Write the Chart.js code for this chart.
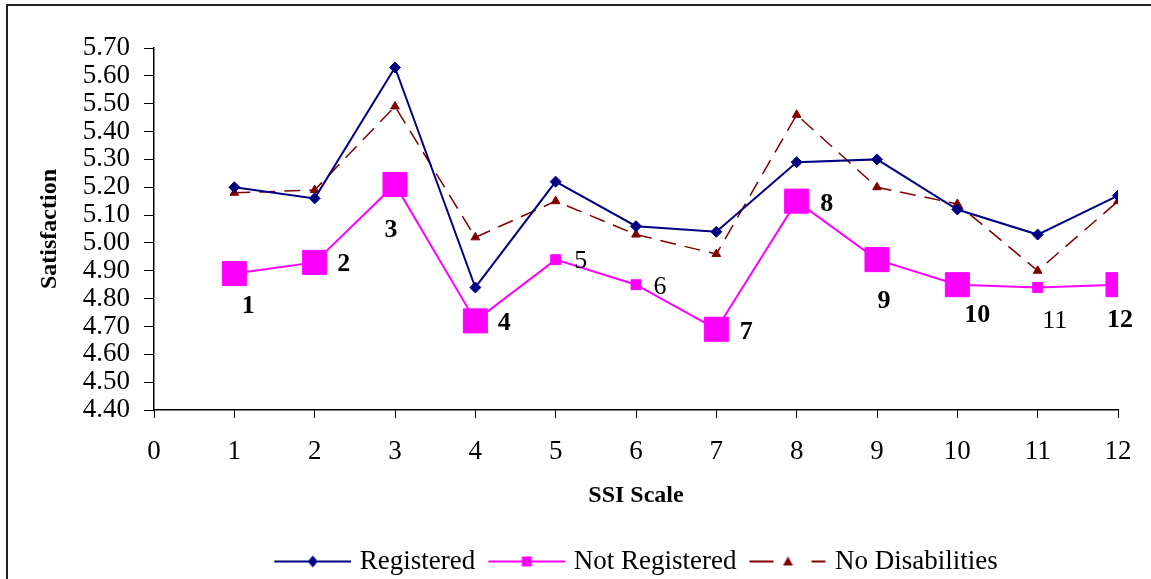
<!DOCTYPE html>
<html>
<head>
<meta charset="utf-8">
<title>SSI Scale Satisfaction</title>
<script src="https://cdn.jsdelivr.net/npm/chart.js@4"></script>
<style>
  html, body { margin: 0; padding: 0; background: #fff; overflow: hidden; }
  #chart { display: block; }
</style>
</head>
<body>
<canvas id="chart" width="1151" height="579"></canvas>
<script>
// SSI scale items (x values)
const ssiScale = [1, 2, 3, 4, 5, 6, 7, 8, 9, 10, 11, 12];

const registered = [5.20, 5.16, 5.63, 4.84, 5.22, 5.06, 5.04, 5.29, 5.30, 5.12, 5.03, 5.17];
const notRegistered = [4.89, 4.93, 5.21, 4.72, 4.94, 4.85, 4.69, 5.15, 4.94, 4.85, 4.84, 4.85];
const noDisabilities = [5.18, 5.19, 5.49, 5.02, 5.15, 5.03, 4.96, 5.46, 5.20, 5.14, 4.90, 5.15];

const seriesNames = ["Registered", "Not Registered", "No Disabilities"];

// labels written next to the "Not Registered" markers
const pointLabels = ["1", "2", "3", "4", "5", "6", "7", "8", "9", "10", "11", "12"];
const plainLabels = ["5", "6", "11"]; // these are small markers with non-bold labels

const serif = "'Liberation Serif', 'Times New Roman', serif";
const navy = "#000080";
const magenta = "#ff00ff";
const maroon = "#800000";

// where each label sits relative to its marker (dx, dy)
const labelOffsets = [
  [14, 33], [29, 2], [-4, 46], [29, 2], [25, 2], [24, 2],
  [30, 3], [30, 3], [7, 42], [20, 31], [17, 34], [2, 36],
];

const toPoints = (values) => values.map((v, i) => ({ x: ssiScale[i], y: v }));

/**
 * Small canvas used as a legend symbol: line with the marker in the middle
 */
const makeLegendIcon = (color, marker, dashed) => {
  const c = document.createElement("canvas");
  c.width = 82;
  c.height = 20;
  const ctx = c.getContext("2d");
  const y = 10;
  ctx.strokeStyle = color;
  ctx.fillStyle = color;
  ctx.lineWidth = 2;
  ctx.beginPath();
  if (dashed) {
    ctx.moveTo(5, y); ctx.lineTo(29, y);
    ctx.moveTo(67, y); ctx.lineTo(81, y);
  } else {
    ctx.moveTo(5, y); ctx.lineTo(82, y);
  }
  ctx.stroke();
  const cx = 43.5;
  ctx.beginPath();
  if (marker === "diamond") {
    ctx.moveTo(cx - 5, y); ctx.lineTo(cx, y - 6); ctx.lineTo(cx + 5, y); ctx.lineTo(cx, y + 6);
  } else if (marker === "square") {
    ctx.rect(cx - 5, y - 5, 10, 10);
  } else {
    ctx.moveTo(cx, y - 5); ctx.lineTo(cx + 5, y + 4); ctx.lineTo(cx - 5, y + 4);
  }
  ctx.closePath();
  ctx.fill();
  return c;
};

// outer frame round the whole chart
const framePlugin = {
  id: "frame",
  beforeDraw: (chart) => {
    const ctx = chart.ctx;
    ctx.save();
    ctx.fillStyle = "#fff";
    ctx.fillRect(0, 0, chart.width, chart.height);
    ctx.strokeStyle = "#222";
    ctx.lineWidth = 2;
    ctx.strokeRect(7, 5, chart.width + 20, chart.height + 20);
    ctx.restore();
  },
};

// numbers next to the Not Registered markers
const pointLabelPlugin = {
  id: "pointLabels",
  afterDatasetsDraw: (chart) => {
    const meta = chart.getDatasetMeta(1);
    const ctx = chart.ctx;
    ctx.save();
    ctx.fillStyle = "#000";
    ctx.textAlign = "center";
    ctx.textBaseline = "middle";
    meta.data.forEach((pt, i) => {
      const text = pointLabels[i];
      const bold = !plainLabels.includes(text);
      ctx.font = (bold ? "bold " : "") + "26px " + serif;
      ctx.fillText(text, pt.x + labelOffsets[i][0], pt.y + labelOffsets[i][1]);
    });
    ctx.restore();
  },
};

const renderChart = () => {
  const legendIcons = [
    makeLegendIcon(navy, "diamond", false),
    makeLegendIcon(magenta, "square", false),
    makeLegendIcon(maroon, "triangle", true),
  ];

  new Chart(document.getElementById("chart"), {
    type: "line",
    data: {
      datasets: [
        {
          label: seriesNames[0],
          data: toPoints(registered),
          borderColor: navy,
          backgroundColor: navy,
          borderWidth: 2,
          pointStyle: "rectRot",
          pointRadius: 5.5,
          pointBorderWidth: 1,
        },
        {
          label: seriesNames[1],
          data: toPoints(notRegistered),
          borderColor: magenta,
          backgroundColor: magenta,
          borderWidth: 2,
          pointStyle: "rect",
          pointRadius: (ctx) => (plainLabels.includes(pointLabels[ctx.dataIndex]) ? 7 : 17),
          pointBorderWidth: 1,
        },
        {
          label: seriesNames[2],
          data: toPoints(noDisabilities),
          borderColor: maroon,
          backgroundColor: maroon,
          borderWidth: 1.5,
          borderDash: [16, 9],
          pointStyle: "triangle",
          pointRadius: 5,
          pointBorderWidth: 1,
        },
      ],
    },
    options: {
      responsive: false,
      animation: false,
      devicePixelRatio: 1,
      layout: { padding: { top: 48, right: 33, left: 0, bottom: -6 } },
      scales: {
        x: {
          type: "linear",
          min: 0,
          max: 12,
          afterFit: (scale) => { scale.height = 125; },
          ticks: {
            stepSize: 1,
            autoSkip: false,
            color: "#000",
            padding: 18,
            font: { family: serif, size: 27 },
          },
          grid: { display: true, drawOnChartArea: false, drawTicks: true, tickLength: 8, color: "#000", lineWidth: 1 },
          border: { display: true, color: "#000", width: 1.5 },
          title: {
            display: true,
            text: "SSI Scale",
            color: "#000",
            font: { family: serif, size: 24, weight: "bold" },
            padding: { top: 0, bottom: 25 },
          },
        },
        y: {
          min: 4.4,
          max: 5.7,
          afterFit: (scale) => { scale.width = 154; },
          ticks: {
            stepSize: 0.1,
            autoSkip: false,
            color: "#000",
            padding: 14,
            font: { family: serif, size: 27 },
            callback: (value) => Number(value).toFixed(2),
          },
          grid: { display: true, drawOnChartArea: false, drawTicks: true, tickLength: 10, color: "#000", lineWidth: 1 },
          border: { display: true, color: "#000", width: 1.5 },
          title: {
            display: true,
            text: "Satisfaction",
            color: "#000",
            font: { family: serif, size: 24, weight: "bold" },
            padding: { top: 35, bottom: 0 },
          },
        },
      },
      plugins: {
        tooltip: { enabled: false },
        legend: {
          position: "bottom",
          fullSize: false,
          labels: {
            usePointStyle: true,
            pointStyleWidth: 72,
            padding: 13,
            color: "#000",
            font: { family: serif, size: 27 },
            generateLabels: (chart) =>
              Chart.defaults.plugins.legend.labels.generateLabels(chart).map((item, i) => ({
                ...item,
                pointStyle: legendIcons[i],
                fontColor: "#000",
              })),
          },
        },
      },
    },
    plugins: [framePlugin, pointLabelPlugin],
  });
};

window.addEventListener("load", () => {
  renderChart();
});
</script>
</body>
</html>
